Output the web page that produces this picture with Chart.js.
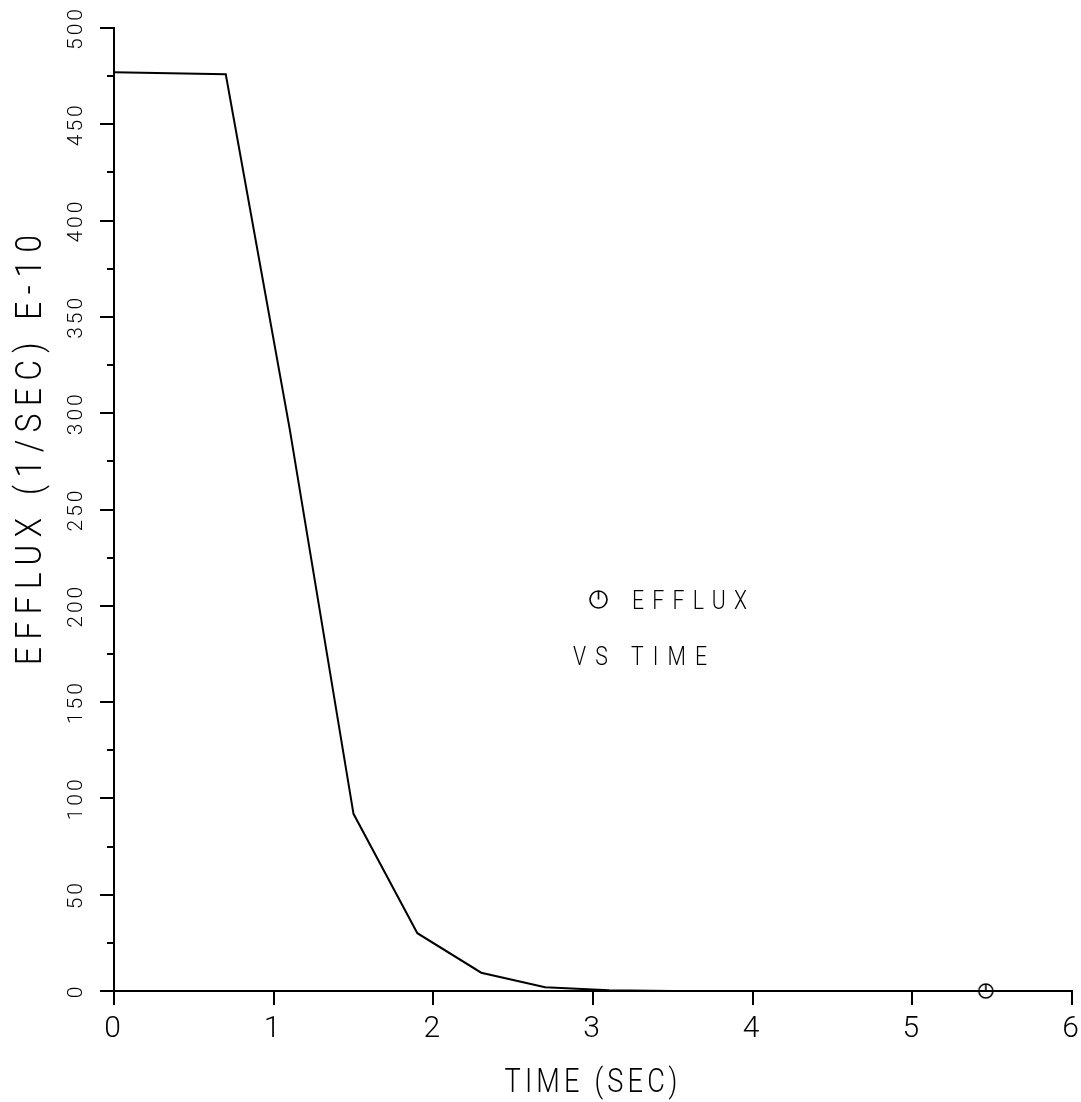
<!DOCTYPE html>
<html><head><meta charset="utf-8">
<script src="https://cdn.jsdelivr.net/npm/chart.js@4.4.1/dist/chart.umd.min.js"></script>
<style>html,body{margin:0;padding:0;background:#fff;}#wrap{width:1081px;height:1102px;}</style>
</head><body><div id="wrap"><canvas id="c" width="1081" height="1102"></canvas></div>
<script>
// ---- data ----
const timeSec   = [0,   0.7, 1.1, 1.5, 1.9, 2.3, 2.7, 3.1, 3.5, 5.46];
const effluxE10 = [477, 476, 292, 92,  30,  9.5, 2,   0.4, 0,   0];
const markerTime   = [5.46];
const markerEfflux = [0];
const xTickValues = [0, 1, 2, 3, 4, 5, 6];
const yTickValues = [0,25,50,75,100,125,150,175,200,225,250,275,300,325,350,375,400,425,450,475,500];
const yLabelValues = [0,50,100,150,200,250,300,350,400,450,500];
const xTitle = 'TIME (SEC)';
const yTitle = 'EFFLUX (1/SEC) E-10';
const legendLabel = 'EFFLUX';
const legendSub = 'VS TIME';

const FONT = "Roboto,'DejaVu Sans',sans-serif";
const W = 300;

function makeMarker(r){
  const s = Math.ceil(r*2+6), c = document.createElement('canvas');
  c.width = s; c.height = s;
  const g = c.getContext('2d');
  g.strokeStyle = '#000'; g.lineWidth = 1.6;
  g.beginPath(); g.arc(s/2, s/2, r, 0, Math.PI*2); g.stroke();
  g.beginPath(); g.moveTo(s/2, s/2 - r); g.lineTo(s/2, s/2); g.stroke();
  return c;
}
const marker = makeMarker(7);

// text narrowed horizontally (plotter-style) and spaced to a target width
function spacedText(ctx, text, x, y, size, targetWidth, align, sx){
  ctx.save();
  ctx.font = W + ' ' + size + 'px ' + FONT;
  ctx.letterSpacing = '0px';
  const w = ctx.measureText(text).width * sx;
  const sp = text.length > 1 ? Math.max(0, (targetWidth - w) / (text.length - 1)) : 0;
  ctx.letterSpacing = (sp / sx).toFixed(2) + 'px';
  const total = w + sp * (text.length - 1);
  const x0 = align === 'center' ? x - total/2 : x;
  ctx.translate(x0, y);
  ctx.scale(sx, 1);
  ctx.textAlign = 'left';
  ctx.fillText(text, 0, 0);
  ctx.restore();
}

const decor = {
  id: 'decor',
  beforeDraw(chart){ chart.ctx.letterSpacing = '3px'; },
  afterDraw(chart){
    const {ctx, chartArea: a, scales: {x, y}} = chart;
    ctx.save();
    ctx.letterSpacing = '0px';
    ctx.strokeStyle = '#000'; ctx.lineWidth = 2; ctx.lineCap = 'butt';
    yTickValues.forEach(v => {
      const p = Math.round(y.getPixelForValue(v));
      const len = yLabelValues.includes(v) ? 14 : 7;
      ctx.beginPath(); ctx.moveTo(a.left, p); ctx.lineTo(a.left - len, p); ctx.stroke();
    });
    xTickValues.forEach(v => {
      const p = Math.round(x.getPixelForValue(v));
      ctx.beginPath(); ctx.moveTo(p, a.bottom); ctx.lineTo(p, a.bottom + 14); ctx.stroke();
    });
    ctx.fillStyle = '#000';
    ctx.textBaseline = 'alphabetic';
    // y title
    ctx.save();
    ctx.translate(41, 450); ctx.rotate(-Math.PI/2);
    spacedText(ctx, yTitle, 0, 0, 37, 430, 'center', 0.85);
    ctx.restore();
    // x title
    spacedText(ctx, xTitle, 591, 1092, 34, 173, 'center', 0.8);
    // legend
    ctx.lineWidth = 1.6;
    ctx.beginPath(); ctx.arc(598.5, 599.5, 8.5, 0, Math.PI*2); ctx.stroke();
    ctx.beginPath(); ctx.moveTo(598.5, 591); ctx.lineTo(598.5, 599.5); ctx.stroke();
    spacedText(ctx, legendLabel, 632, 609, 25, 115, 'left', 0.85);
    spacedText(ctx, legendSub, 573, 665, 25, 134, 'left', 0.85);
    ctx.restore();
  }
};

new Chart(document.getElementById('c'), {
  type: 'scatter',
  data: {
    datasets: [
      {
        label: 'EFFLUX',
        data: timeSec.map((t, i) => ({x: t, y: effluxE10[i]})),
        showLine: true, borderColor: '#000', borderWidth: 2,
        pointRadius: 0, tension: 0, clip: false
      },
      {
        label: 'symbol',
        data: markerTime.map((t, i) => ({x: t, y: markerEfflux[i]})),
        showLine: false, pointStyle: marker, pointRadius: 8, clip: false
      }
    ]
  },
  options: {
    responsive: false, animation: false, devicePixelRatio: 1,
    layout: {padding: {left: 0, top: 28, right: 5, bottom: 0}},
    plugins: {legend: {display: false}, tooltip: {enabled: false}},
    scales: {
      x: {
        type: 'linear', min: 0, max: 6, position: 'bottom',
        afterBuildTicks: s => { s.ticks = xTickValues.map(v => ({value: v})); },
        ticks: {font: {family: FONT, size: 30, weight: W}, color: '#000', padding: 20, maxRotation: 0, autoSkip: false},
        grid: {display: false, drawTicks: false},
        border: {display: true, color: '#000', width: 2},
        afterFit: s => { s.height = 111; s.paddingLeft = 0; s.paddingRight = 0; }
      },
      y: {
        type: 'linear', min: 0, max: 500,
        afterBuildTicks: s => { s.ticks = yTickValues.map(v => ({value: v})); },
        ticks: {
          callback: v => yLabelValues.includes(v) ? String(v) : '',
          minRotation: 90, maxRotation: 90, crossAlign: 'center', padding: 20, autoSkip: false,
          font: {family: FONT, size: 21, weight: W}, color: '#000'
        },
        grid: {display: false, drawTicks: false},
        border: {display: true, color: '#000', width: 2},
        afterFit: s => { s.width = 114; s.paddingTop = 0; s.paddingBottom = 0; }
      }
    }
  },
  plugins: [decor]
});
</script></body></html>
